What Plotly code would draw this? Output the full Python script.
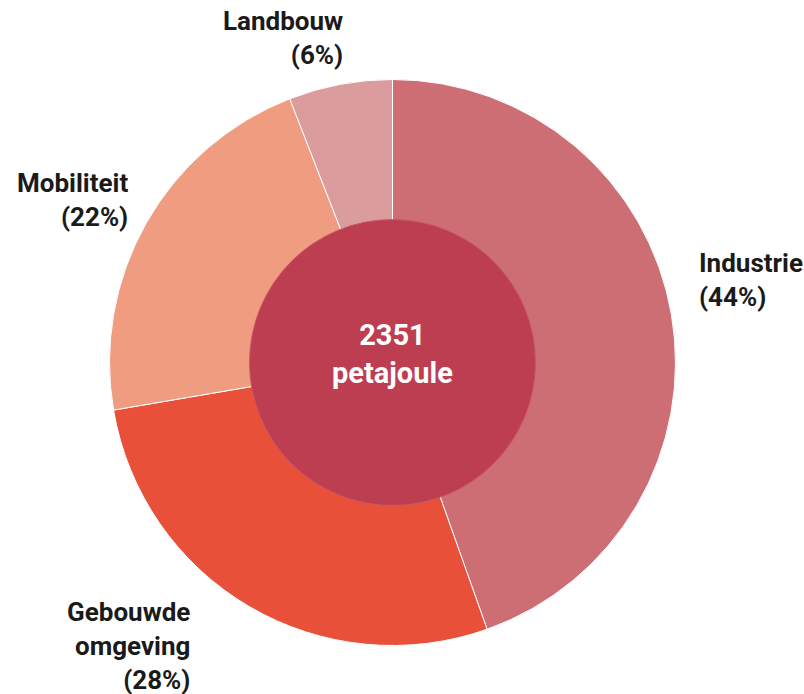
import plotly.graph_objects as go

W, H = 804, 694

categories = ["Industrie", "Gebouwde omgeving", "Mobiliteit", "Landbouw"]
label_lines = ["Industrie", "Gebouwde<br>omgeving", "Mobiliteit", "Landbouw"]
values_pj = [1048, 652, 512, 139]      # sum = 2351
pct_labels = [44, 28, 22, 6]           # percentages as printed
total_pj = 2351
unit = "petajoule"

colors = ["#CC6E74", "#E8503A", "#F09C80", "#DB9C9D"]
center_color = "#BD3E51"

# pixel geometry
cx, cy = 392.5, 362.5
r_out, r_in = 283, 143

def px_dom(r):
    return dict(x=[(cx - r) / W, (cx + r) / W], y=[1 - (cy + r) / H, 1 - (cy - r) / H])

fig = go.Figure()
fig.add_trace(go.Pie(
    labels=categories, values=values_pj, sort=False, direction="clockwise",
    marker=dict(colors=colors, line=dict(color="white", width=1)),
    textinfo="none", hoverinfo="label+percent", domain=px_dom(r_out), showlegend=False,
))
fig.add_trace(go.Pie(
    labels=["Totaal"], values=[total_pj], sort=False,
    marker=dict(colors=[center_color], line=dict(color="#C65866", width=1)),
    textinfo="none", hoverinfo="skip", domain=px_dom(r_in), showlegend=False,
))

font_lab = dict(family="Roboto, 'Noto Sans', sans-serif", size=26, color="#1a1a1a")
# label anchor positions in px: (x, y, xanchor)
label_pos = [(697, 280, "left"), (192, 646, "right"), (130, 200, "right"), (345, 38, "right")]
for txt, s, (x, y, anc) in zip(label_lines, pct_labels, label_pos):
    fig.add_annotation(
        x=x / W, y=1 - y / H, xref="paper", yref="paper",
        text=f"<b>{txt}<br>({s}%)</b>", showarrow=False,
        xanchor=anc, yanchor="middle", align=anc, font=font_lab,
    )

fig.add_annotation(
    x=cx / W, y=1 - 354 / H, xref="paper", yref="paper",
    text=f"<b>{total_pj}<br>{unit}</b>", showarrow=False,
    xanchor="center", yanchor="middle", align="center",
    font=dict(family="Roboto, 'Noto Sans', sans-serif", size=29, color="white"),
)

fig.update_layout(
    width=W, height=H, margin=dict(l=0, r=0, t=0, b=0),
    paper_bgcolor="white", plot_bgcolor="white",
)
fig.write_html("out.html", config={"displayModeBar": False},
               post_script="document.body.style.margin='0';")
